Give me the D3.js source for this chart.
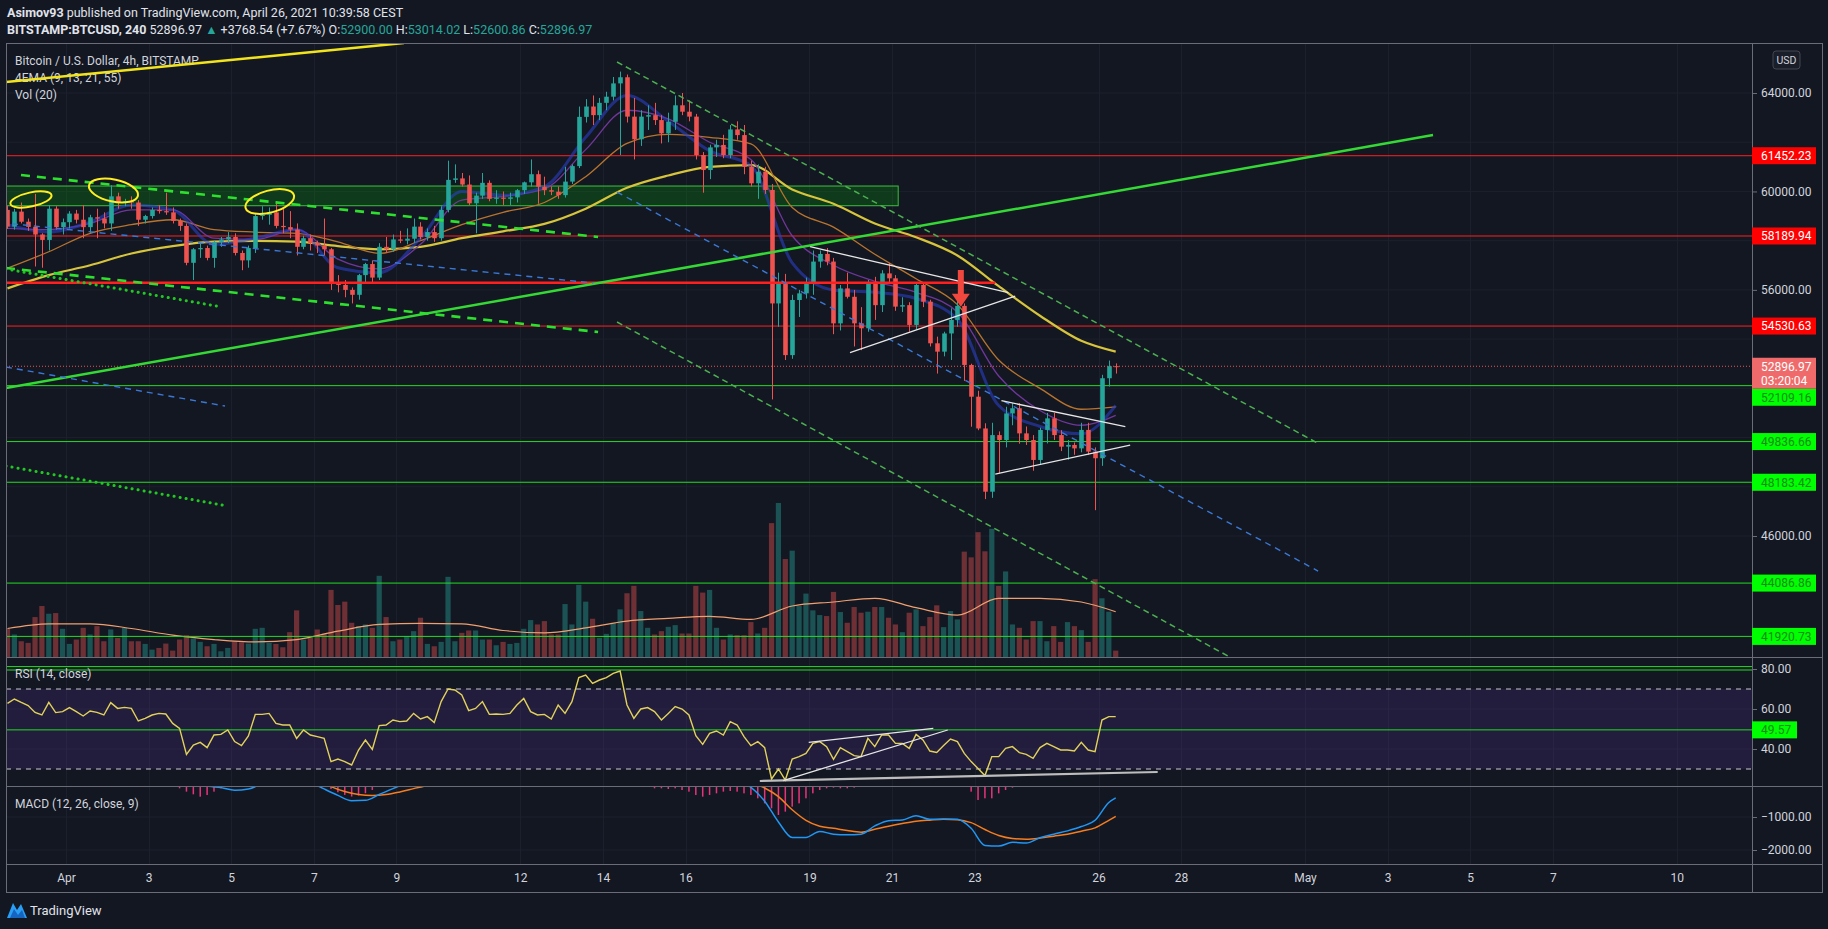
<!DOCTYPE html>
<html>
<head>
<meta charset="utf-8">
<script src="https://d3js.org/d3.v7.min.js"></script>
<style>
  html, body { margin: 0; background: #131722; overflow: hidden; }
  svg { display: block; font-family: Roboto, "Liberation Sans", sans-serif; }
</style>
</head>
<body>
<div id="chart"></div>
<script>
////////////////////////////////////////////////////////////////////
////////////////////////////  Data  ////////////////////////////////
// 4h candles, first one Mar 30 14:00 (chart time), last one Apr 26 10:00
const firstCandle = Date.UTC(2021, 2, 30, 14);
const candleMs = 4 * 3600 * 1000;

const open = [
  59250,58570,59180,58770,58560,58250,58030,59300,58550,58750,
  59100,58850,58550,58950,58900,58700,59800,59550,59600,59550,
  58850,59000,59250,59200,59150,58800,58600,57100,57650,57700,
  57300,57950,58050,58150,57500,57200,57700,59000,59050,59150,
  58600,58550,58450,57750,58100,57900,57800,57650,56300,56200,
  56000,55800,56600,57050,56500,57750,57650,58050,58000,58080,
  58570,58150,58350,58100,59250,60470,60530,60280,59520,59830,
  60350,59700,59750,59700,59760,60050,60370,60700,60190,60050,
  59990,59850,60400,61030,63030,63450,63100,63600,63850,64390,
  64640,63040,62120,63040,63100,62900,62360,62830,63500,63240,
  63040,61480,60870,61790,61890,61480,62520,62290,61000,60330,
  60800,60060,55450,56270,53350,55590,55860,56270,57150,57460,
  57150,54640,56060,55720,54640,54440,56266,55380,56670,56470,
  55320,55380,54575,56200,55520,53830,53490,54230,54780,55350,
  52950,51660,50370,47800,50100,49900,50980,51190,50170,49900,
  49090,50310,50780,50100,49630,49700,49560,50310,49430,49160,
  52410,52900
];
const high = [
  59420,59300,59550,58900,59900,58300,59450,59400,58900,59200,
  59250,59450,59050,59300,59150,60250,59950,59700,59800,59650,
  59050,59350,59450,59950,59350,58900,58700,57700,57900,57800,
  58000,58150,58350,58300,57600,57800,59100,59400,59350,59600,
  59300,59200,58700,58200,58250,58000,58900,57700,56600,56400,
  56100,56650,57100,57200,57900,58150,58250,58400,58500,58900,
  58750,58500,58600,59400,61250,61100,60750,60650,59950,60750,
  60450,60050,60000,59950,60100,60400,61300,60850,60600,60200,
  60200,61000,61100,63450,63750,63900,63800,64050,64650,64870,
  64750,63800,63300,63500,63600,63100,63200,63900,64000,63700,
  63150,61600,61900,62100,62300,62700,62850,62700,61250,61100,
  61000,60300,56700,56650,55800,56000,56500,57600,57600,57700,
  57300,56200,56700,56000,55300,56400,56530,56800,57100,56600,
  55700,55500,56300,56300,55600,54100,54300,55250,55550,55450,
  53000,51900,50580,50600,50250,51250,51400,51400,50450,50100,
  50400,51000,51000,50300,49900,49800,50600,50600,49600,52550,
  53130,53014
];
const low = [
  58480,58450,58700,58400,56950,56900,57600,58450,58250,58500,
  58700,58100,58300,58100,58500,58400,59300,59400,59300,58600,
  58700,58900,59100,59050,58700,58400,57000,56400,57300,57200,
  56900,57750,57900,57400,56800,56900,57500,58850,58650,58500,
  58300,58100,57400,57650,57600,57500,57400,56000,55900,55700,
  55450,55600,56300,56300,56400,57500,57550,57900,57850,57900,
  58050,58000,57950,58000,59150,60350,60200,59450,58300,59700,
  59600,59500,59450,59450,59550,59900,60200,59500,59850,59850,
  59700,59750,60300,60950,62800,62700,62900,63300,63700,61480,
  62800,61300,61850,62500,62700,61950,62000,62500,63100,62850,
  61300,59950,60500,61400,61350,61350,62100,60700,60200,59700,
  59900,51550,54500,53150,53200,54900,55650,55800,56900,57000,
  54200,54350,55650,53700,53550,54300,54780,55100,56300,55150,
  55100,54300,54400,55300,53700,52600,53300,53150,54500,52300,
  50440,50300,47500,47550,48550,49600,50500,49750,49700,48650,
  48900,49760,49900,49450,49100,49300,49400,49300,47050,48850,
  52070,52600
];
const close = [
  58570,59180,58770,58560,58250,58030,59300,58550,58750,59100,
  58850,58550,58950,58900,58700,59800,59550,59600,59550,58850,
  59000,59250,59200,59150,58800,58600,57100,57650,57700,57300,
  57950,58050,58150,57500,57200,57700,59000,59050,59150,58600,
  58550,58450,57750,58100,57900,57800,57650,56300,56200,56000,
  55800,56600,57050,56500,57750,57650,58050,58000,58080,58570,
  58150,58350,58100,59250,60470,60530,60280,59520,59830,60350,
  59700,59750,59700,59760,60050,60370,60700,60190,60050,59990,
  59850,60400,61030,63030,63450,63100,63600,63850,64390,64640,
  63040,62120,63040,63100,62900,62360,62830,63500,63240,63040,
  61480,60870,61790,61890,61480,62520,62290,61000,60330,60800,
  60060,55450,56270,53350,55590,55860,56270,57150,57460,57150,
  54640,56060,55720,54640,54440,56266,55380,56670,56470,55320,
  55380,54575,56200,55520,53830,53490,54230,54780,55350,52950,
  51660,50370,47800,50100,49900,50980,51190,50170,49900,49090,
  50310,50780,50100,49630,49700,49560,50310,49430,49160,52410,
  52900,52897
];
const volume = [
  1400,1117,783,700,1983,2533,2150,2183,1400,650,
  867,1450,1117,1533,783,1367,950,1450,783,783,
  650,367,450,667,317,867,1083,917,750,533,
  650,283,450,783,733,667,1400,1450,700,650,
  483,1233,2317,867,950,1367,1167,3333,2583,2750,
  1700,1533,1617,1450,4033,1983,783,867,1033,1283,
  1950,650,533,750,3983,783,1200,1317,1317,867,
  867,583,750,650,700,1400,1833,1617,1783,1117,
  1117,2630,1617,3583,2750,1900,950,1150,1700,2367,
  3167,3533,2283,1450,1117,1283,1500,1583,1167,1167,
  3533,3200,3333,1450,867,1117,1083,1083,1733,1167,
  1450,6650,7650,4867,5283,2533,3150,2317,2083,2033,
  3233,2233,1700,2483,2200,2250,2483,2483,1950,1617,
  1233,2200,2367,1533,1983,2567,1483,2283,1867,5233,
  4950,6200,5250,6367,3533,4250,1617,1450,867,1783,
  1783,783,1533,750,1733,1533,1333,750,3867,2917,
  2250,317
];

// indicator lines every 6 candles (+ last candle)
const sampleK = [0,6,12,18,24,30,36,42,48,54,60,66,72,78,84,90,96,102,108,114,120,126,132,138,144,150,156,161];
const ema9 =  [58650,58350,58750,59450,59250,57850,58100,58450,56900,56700,58100,60000,59850,60200,62200,63900,62850,61650,61050,57100,56000,55900,55650,54800,51300,50450,50150,51300];
const ema13 = [58500,58450,58700,59250,59250,58100,58050,58450,57250,56850,57850,59650,59800,60100,61700,63300,62950,62000,61300,58200,57000,56350,55900,55100,52500,51100,50500,50900];
const ema21 = [56880,57550,58300,58650,58850,58450,58350,58300,57950,57480,58000,58650,59150,59550,60600,61950,62320,62200,61930,59350,58550,57450,56450,55400,53150,52000,51150,51250];
const ema55 = [56063,56600,57000,57480,57780,57960,57990,57960,57780,57650,57750,58100,58380,58680,59300,60150,60650,61000,61070,60080,59500,58700,58140,57400,56150,54950,53930,53490];
const volMa = [1417,1650,1650,1417,1083,867,750,867,1283,1617,1667,1650,1317,1200,1450,1783,1917,2017,1867,2533,2733,2917,2450,2083,2917,2917,2733,2250];

const rsi = [
  62.8,65,63.3,61.7,58.3,57,63.3,58.2,58.7,60.7,58.7,56.5,59,58.3,57,63.2,60.3,60.8,60.3,54,
  55.3,57,57.8,57.5,52.8,50.3,37.3,42,43.3,40.7,47,47.3,49.5,43.7,41.7,46.5,57.3,57.3,57.8,52.8,
  52,52,45.3,49.5,47,46.2,45.3,33.7,35,33.7,32,39.5,44.5,39.8,51.7,52,54.5,53.7,54,57.8,
  55,56.2,53.2,63.7,70,69.5,67,59.2,60.3,63.7,57.3,57.5,57.3,57.8,62,65.3,58.7,57,57.3,55,
  62,
  57.8,63.7,75.7,77,72.8,74.5,75.7,77.8,79,62,55.3,60,60.7,58.7,54.5,57.8,61.2,60,57,46.7,
  42.3,47.8,49,47,53.7,52,46.2,41.7,43.7,40.7,25,30,24.5,35,36.2,37.8,42.8,43.7,41.2,34.8,
  40.7,38.7,36.7,36.2,45.3,41.2,47,47,42.8,42.8,40.3,47.3,44.5,39,38.3,41.7,45,43.7,37.8,33.7,
  30.3,26.7,36.2,36.2,40.3,41.2,38.2,37.3,35.3,40.7,42.8,41.2,39.5,39.5,39,43.3,39.5,38.7,54.5,56.2,
  56.2
];

// MACD: only the parts below zero are visible in the pane
const macdK = [27,29,31,33,35,37, 44,46,48,50,52,54,56,58,
  106,108,110,112,114,116,118,120,122,124,126,128,130,132,134,136,138,140,142,144,146,148,150,152,154,156,158,160,161];
const macdV = [40,-61,-110,-190,-150,20, 60,-150,-345,-505,-495,-320,-140,30,
  100,-100,-520,-1150,-1620,-1620,-1440,-1520,-1540,-1520,-1270,-1110,-1090,-960,-1070,-1060,-1070,-1343,-1860,-1880,-1768,-1790,-1630,-1520,-1420,-1290,-1100,-560,-420];
const signalK = [46,47,49,51,53,55,57,59,61,62,
  108,110,112,114,116,118,120,122,124,126,128,130,132,134,136,138,140,142,144,146,148,150,152,154,156,158,160,161];
const signalV = [20,-81,-230,-320,-350,-320,-240,-140,-40,30,
  50,-120,-380,-780,-1100,-1280,-1343,-1410,-1460,-1370,-1280,-1200,-1130,-1095,-1070,-1080,-1170,-1380,-1560,-1650,-1672,-1640,-1580,-1520,-1430,-1330,-1100,-980];
const histK = [24,25,26,27,28,29,30,31,32, 46,47,48,49,50,51,52,53,54,
  94,95,96,97,98,99,100,101,102,103,104,105,106,107,108,109,110,111,112,113,114,115,116,117,118,119,120,121,122,123,
  140,141,142,143,144,145,146];
const histV = [-60,-131,-232,-313,-384,-333,-232,-131,-60, -60,-150,-250,-330,-380,-350,-280,-180,-80,
  -131,-131,-152,-131,-182,-232,-333,-384,-333,-283,-232,-212,-232,-283,-333,-434,-586,-737,-939,-838,-687,-586,-434,-283,-182,-131,-111,-131,-131,-111,
  -232,-485,-434,-434,-283,-182,-111];

// price levels with axis labels
const redLevels = [61452.23, 58189.94, 54530.63];
const greenLevels = [52109.16, 49836.66, 48183.42, 44086.86, 41920.73];
const lastPrice = 52896.97;
const countdown = "03:20:04";
const rsiLevels = [81.2, 79.5];
const rsiMark = 49.57;

// drawings: [candle index, price]
const yellowLine = [[-0.22, 64447], [57.6, 66032]];
const greenTrend = [[-0.22, 52013], [207.1, 62293]];
const greenDashed = [[[1.96, 60668], [85.8, 58149]], [[-0.22, 56889], [85.8, 54289]]];
const greenDotted = [[[-0.22, 56848], [31.2, 55304]], [[-0.22, 48844], [31.2, 47259]]];
const blueDashed = [[[-0.22, 52866], [31.6, 51281]], [[0.65, 58685], [85.1, 56280]], [[88.55, 59977], [190.4, 44577]]];
const channelDashed = [[[88.55, 65260], [190.3, 49778]], [[88.55, 54695], [177.3, 41123]]];
const wedgeLines = [[[116.6, 57755], [145.4, 55886]], [[122.4, 53447], [146.4, 55751]],
  [[144.4, 51497], [162.4, 50441]], [[143.5, 48518], [163.1, 49696]]];
const redSupport = [[-0.22, 56292], [143.5, 56292]];
const zoneK = [-0.22, 129.4];
const zoneP = [60220, 59420];
const circled = [[3.41, 59673], [15.4, 60038], [38.1, 59591]];
const arrowK = 138.5;
const arrowP = [56808, 55316];
const rsiDrawings = [[[109.3, 24], [167.1, 28.5]], [[112.7, 24.2], [136.6, 49.5]], [[116.4, 43.3], [134.5, 50.3]]];

// time axis
const tickDates = ["2021-04-01","2021-04-03","2021-04-05","2021-04-07","2021-04-09","2021-04-12",
  "2021-04-14","2021-04-16","2021-04-19","2021-04-21","2021-04-23","2021-04-26","2021-04-28",
  "2021-05-01","2021-05-03","2021-05-05","2021-05-07","2021-05-10"];
const tickLabels = ["Apr","3","5","7","9","12","14","16","19","21","23","26","28","May","3","5","7","10"];
const priceTicks = [46000,48000,50000,52000,54000,56000,58000,60000,62000,64000];
const rsiTicks = [40, 60, 80];
const macdTicks = [-1000, -2000];

////////////////////////////////////////////////////////////////////
////////////////////////////  Layout  //////////////////////////////
const W = 1828, H = 929;
const left = 6, axisX = 1752, right = 1822;
const priceTop = 43, priceBot = 657, rsiBot = 786, macdBot = 864, timeBot = 892;

const up = "#26a69a", down = "#ef5350";
const txt = "#d1d4dc";
const fmt = d3.format(".2f");

const svg = d3.select("#chart").append("svg").attr("width", W).attr("height", H);

const x = d3.scaleUtc()
  .domain([new Date("2021-04-01T00:00:00Z"), new Date("2021-04-26T00:00:00Z")])
  .range([66, 1098.5]);
const xk = (k) => x(new Date(firstCandle + k * candleMs));

const y = d3.scaleLinear().domain([64000, 46000]).range([93, 536]);
const yVol = d3.scaleLinear().domain([0, d3.max(volume)]).range([priceBot, 503]);
const yRsi = d3.scaleLinear().domain([80, 40]).range([669, 749]);
const yMacd = d3.scaleLinear().domain([-1000, -2000]).range([817, 850]);

const defs = svg.append("defs");
function clip(id, y0, y1) {
  defs.append("clipPath").attr("id", id).append("rect")
    .attr("x", left).attr("y", y0).attr("width", axisX - left).attr("height", y1 - y0);
}
clip("c-price", priceTop, priceBot);
clip("c-rsi", priceBot, rsiBot);
clip("c-macd", rsiBot + 1, macdBot);

const idx = d3.range(open.length);

////////////////////////////////////////////////////////////////////
////////////////////////////  Grid  ////////////////////////////////
const grid = svg.append("g").attr("stroke", "#1c202c").attr("stroke-width", 1);
tickDates.forEach((d) => {
  const gx = Math.round(x(new Date(d + "T00:00:00Z"))) + 0.5;
  grid.append("line").attr("x1", gx).attr("x2", gx).attr("y1", priceTop).attr("y2", macdBot);
});
priceTicks.forEach((p) => {
  grid.append("line").attr("x1", left).attr("x2", axisX).attr("y1", y(p)).attr("y2", y(p));
});
rsiTicks.forEach((r) => grid.append("line").attr("x1", left).attr("x2", axisX).attr("y1", yRsi(r)).attr("y2", yRsi(r)));
macdTicks.forEach((m) => grid.append("line").attr("x1", left).attr("x2", axisX).attr("y1", yMacd(m)).attr("y2", yMacd(m)));

////////////////////////////////////////////////////////////////////
////////////////////////////  Price pane  //////////////////////////
const pane = svg.append("g").attr("clip-path", "url(#c-price)");

// green supply zone
pane.append("rect")
  .attr("x", xk(zoneK[0])).attr("width", xk(zoneK[1]) - xk(zoneK[0]))
  .attr("y", y(zoneP[0])).attr("height", y(zoneP[1]) - y(zoneP[0]))
  .attr("fill", "rgba(0,200,0,0.2)").attr("stroke", "#3fbf3f").attr("stroke-width", 1);

// volume
pane.selectAll(".vol").data(idx).enter().append("rect")
  .attr("x", (k) => xk(k) - 2.6).attr("width", 5.2)
  .attr("y", (k) => yVol(volume[k])).attr("height", (k) => priceBot - yVol(volume[k]))
  .attr("fill", (k) => close[k] >= open[k] ? "rgba(38,166,154,0.42)" : "rgba(239,83,80,0.42)");

const smooth = (yy) => d3.line().x((d, i) => xk(sampleK[i])).y((d) => yy(d)).curve(d3.curveMonotoneX);
pane.append("path").datum(volMa).attr("d", smooth(yVol))
  .attr("fill", "none").attr("stroke", "#f0a070").attr("stroke-width", 1.2);

// horizontal levels
redLevels.forEach((p) => pane.append("line").attr("x1", left).attr("x2", axisX)
  .attr("y1", y(p)).attr("y2", y(p)).attr("stroke", "#ff2020").attr("stroke-width", 1));
greenLevels.forEach((p) => pane.append("line").attr("x1", left).attr("x2", axisX)
  .attr("y1", y(p)).attr("y2", y(p)).attr("stroke", "#22dd22").attr("stroke-width", 1));

// EMAs
[[ema55, "#d6c43c", 2.2, 1], [ema21, "#b8742e", 1.3, 1], [ema13, "#7a3aa8", 1.3, 0.9], [ema9, "#2b3fc4", 3, 0.6]]
  .forEach(([s, c, w, o]) => pane.append("path").datum(s).attr("d", smooth(y))
    .attr("fill", "none").attr("stroke", c).attr("stroke-width", w).attr("opacity", o));

// candles
const candles = pane.selectAll(".candle").data(idx).enter().append("g")
  .attr("fill", (k) => close[k] >= open[k] ? up : down)
  .attr("stroke", (k) => close[k] >= open[k] ? up : down);
candles.append("line")
  .attr("x1", (k) => Math.round(xk(k)) + 0.5).attr("x2", (k) => Math.round(xk(k)) + 0.5)
  .attr("y1", (k) => y(high[k])).attr("y2", (k) => y(low[k])).attr("stroke-width", 1);
candles.append("rect")
  .attr("x", (k) => Math.round(xk(k)) + 0.5 - 2.3).attr("width", 4.6)
  .attr("y", (k) => y(Math.max(open[k], close[k])))
  .attr("height", (k) => Math.max(1, Math.abs(y(open[k]) - y(close[k]))))
  .attr("stroke", "none");

// last price dotted line
pane.append("line").attr("x1", left).attr("x2", axisX).attr("y1", y(lastPrice)).attr("y2", y(lastPrice))
  .attr("stroke", "#ef5350").attr("stroke-width", 1).attr("stroke-dasharray", "1,2");

// legend (drawn under the drawings)
const legend = svg.append("g").attr("font-size", 12).attr("fill", txt);
legend.append("text").attr("x", 15).attr("y", 65).text("Bitcoin / U.S. Dollar, 4h, BITSTAMP");
legend.append("text").attr("x", 15).attr("y", 82).text("4EMA (9, 13, 21, 55)");
legend.append("text").attr("x", 15).attr("y", 99).text("Vol (20)");

// drawings
const draw = svg.append("g").attr("clip-path", "url(#c-price)").attr("fill", "none");
function seg(g, pts, c, w, dash, cap) {
  g.append("line")
    .attr("x1", xk(pts[0][0])).attr("y1", y(pts[0][1]))
    .attr("x2", xk(pts[1][0])).attr("y2", y(pts[1][1]))
    .attr("stroke", c).attr("stroke-width", w)
    .attr("stroke-dasharray", dash).attr("stroke-linecap", cap || "butt");
}
seg(draw, redSupport, "#ff1f1f", 2.5, null);
seg(draw, yellowLine, "#f2e41c", 2.5, null);
seg(draw, greenTrend, "#35d935", 2.5, null);
greenDashed.forEach((s) => seg(draw, s, "#2ee02e", 2.6, "9,7"));
greenDotted.forEach((s) => seg(draw, s, "#22c822", 3, "0.1,6", "round"));
blueDashed.forEach((s) => seg(draw, s, "#3b78d6", 1.4, "6,5"));
channelDashed.forEach((s) => seg(draw, s, "#4caf50", 1.5, "6,4"));
wedgeLines.forEach((s) => seg(draw, s, "#e6e6e6", 1.3, null));

[[21, 7, -12], [25, 11, 12], [25, 11, -15]].forEach(([rx, ry, a], i) => {
  const cx = xk(circled[i][0]), cy = y(circled[i][1]);
  draw.append("ellipse").attr("cx", cx).attr("cy", cy).attr("rx", rx).attr("ry", ry)
    .attr("transform", `rotate(${a},${cx},${cy})`)
    .attr("stroke", "#ffee22").attr("stroke-width", 2);
});

// red arrow
{
  const ax = xk(arrowK), top = y(arrowP[0]), tip = y(arrowP[1]);
  const hs = tip - 13;
  draw.append("path")
    .attr("d", `M${ax - 3},${top} L${ax + 3},${top} L${ax + 3},${hs} L${ax + 9},${hs} L${ax},${tip} L${ax - 9},${hs} L${ax - 3},${hs} Z`)
    .attr("fill", "#f0483e");
}

////////////////////////////////////////////////////////////////////
////////////////////////////  RSI pane  ////////////////////////////
const rsiG = svg.append("g").attr("clip-path", "url(#c-rsi)");
rsiG.append("rect").attr("x", left).attr("width", axisX - left)
  .attr("y", yRsi(70)).attr("height", yRsi(30) - yRsi(70)).attr("fill", "rgba(120,60,200,0.16)");
[70, 30].forEach((r) => rsiG.append("line").attr("x1", left).attr("x2", axisX)
  .attr("y1", yRsi(r)).attr("y2", yRsi(r)).attr("stroke", "#c8c8d0").attr("stroke-dasharray", "5,5"));
rsiLevels.concat([rsiMark]).forEach((r) => rsiG.append("line").attr("x1", left).attr("x2", axisX)
  .attr("y1", yRsi(r)).attr("y2", yRsi(r)).attr("stroke", "#22dd22").attr("stroke-width", 1));
rsiG.append("path").datum(rsi)
  .attr("d", d3.line().x((d, i) => xk(i)).y((d) => yRsi(d)))
  .attr("fill", "none").attr("stroke", "#e2d25c").attr("stroke-width", 1.4);
rsiDrawings.forEach((s, i) => rsiG.append("line")
  .attr("x1", xk(s[0][0])).attr("y1", yRsi(s[0][1])).attr("x2", xk(s[1][0])).attr("y2", yRsi(s[1][1]))
  .attr("stroke", i === 0 ? "#bdbdbd" : "#e6e6e6").attr("stroke-width", i === 0 ? 2.2 : 1.3));
svg.append("text").attr("x", 15).attr("y", 678).attr("font-size", 12).attr("fill", txt).text("RSI (14, close)");

////////////////////////////////////////////////////////////////////
////////////////////////////  MACD pane  ///////////////////////////
const macdG = svg.append("g").attr("clip-path", "url(#c-macd)");
macdG.selectAll(".hist").data(histK).enter().append("rect")
  .attr("x", (k) => xk(k) - 0.75).attr("width", 1.5)
  .attr("y", yMacd(0)).attr("height", (k, i) => yMacd(histV[i]) - yMacd(0))
  .attr("fill", "#e8337a");

function pieces(ks, vs) {
  const out = [];
  ks.forEach((k, i) => {
    if (!i || k - ks[i - 1] > 3) out.push([]);
    out[out.length - 1].push([k, vs[i]]);
  });
  return out;
}
const macdLine = d3.line().x((d) => xk(d[0])).y((d) => yMacd(d[1])).curve(d3.curveMonotoneX);
pieces(signalK, signalV).forEach((p) => macdG.append("path").datum(p).attr("d", macdLine)
  .attr("fill", "none").attr("stroke", "#f57c1f").attr("stroke-width", 1.5));
pieces(macdK, macdV).forEach((p) => macdG.append("path").datum(p).attr("d", macdLine)
  .attr("fill", "none").attr("stroke", "#2196f3").attr("stroke-width", 1.5));
svg.append("text").attr("x", 15).attr("y", 808).attr("font-size", 12).attr("fill", txt).text("MACD (12, 26, close, 9)");

////////////////////////////////////////////////////////////////////
////////////////////////////  Frame & axes  ////////////////////////
const frame = svg.append("g").attr("stroke", "#6a6d78").attr("fill", "none");
frame.append("rect").attr("x", left + 0.5).attr("y", priceTop + 0.5)
  .attr("width", right - left).attr("height", timeBot - priceTop);
[priceBot, rsiBot, macdBot].forEach((yy) => frame.append("line")
  .attr("x1", left).attr("x2", right).attr("y1", yy + 0.5).attr("y2", yy + 0.5));
frame.append("line").attr("x1", axisX + 0.5).attr("x2", axisX + 0.5).attr("y1", priceTop).attr("y2", timeBot);

function styleAxis(g) {
  g.select(".domain").remove();
  g.selectAll(".tick line").attr("stroke", "#6a6d78");
  g.selectAll(".tick text").attr("fill", txt).attr("font-size", 12).attr("font-family", "Roboto, sans-serif");
}

// where the level tags sit on the price scale
const lastY = y(lastPrice);
const tagY = (p) => {
  const yy = y(p);
  // a tag that would sit under the last-price box is pushed below it
  return (yy > lastY - 8.5 && yy < lastY + 31) ? lastY + 22.5 + 8.5 : yy;
};
const tagYs = redLevels.concat(greenLevels).map(tagY).concat([lastY + 7]);
// tick labels that sit under a tag are hidden, as on the original scale
const freeTicks = priceTicks.filter((p) => tagYs.every((t) => Math.abs(y(p) - t) > 14));

svg.append("g").attr("transform", `translate(${axisX},0)`)
  .call(d3.axisRight(y).tickValues(freeTicks).tickFormat(fmt).tickSize(5).tickPadding(4))
  .call(styleAxis);
svg.append("g").attr("transform", `translate(${axisX},0)`)
  .call(d3.axisRight(yRsi).tickValues(rsiTicks).tickFormat(fmt).tickSize(5).tickPadding(4))
  .call(styleAxis);
svg.append("g").attr("transform", `translate(${axisX},0)`)
  .call(d3.axisRight(yMacd).tickValues(macdTicks).tickFormat(fmt).tickSize(5).tickPadding(4))
  .call(styleAxis);
svg.append("g").attr("transform", `translate(0,${macdBot})`)
  .call(d3.axisBottom(x).tickValues(tickDates.map((d) => new Date(d + "T00:00:00Z")))
    .tickFormat((d, i) => tickLabels[i]).tickSize(0).tickPadding(9))
  .call(styleAxis);

// axis tags for levels
function axisTag(label, yy, fill, color, w) {
  const g = svg.append("g");
  g.append("rect").attr("x", axisX).attr("y", yy - 8.5).attr("width", w || 64).attr("height", 17).attr("fill", fill);
  g.append("text").attr("x", axisX + 9).attr("y", yy + 4.3).attr("font-size", 12).attr("fill", color).text(label);
}
redLevels.forEach((p) => axisTag(fmt(p), tagY(p), "#ff0000", "#ffffff"));
greenLevels.forEach((p) => axisTag(fmt(p), tagY(p), "#00ff00", "#178a17"));
axisTag(fmt(rsiMark), yRsi(rsiMark), "#00ff00", "#178a17", 45);

svg.append("rect").attr("x", axisX).attr("y", lastY - 8.5).attr("width", 64).attr("height", 31).attr("fill", "#ef6b6b");
svg.append("text").attr("x", axisX + 9).attr("y", lastY + 4.3).attr("font-size", 12).attr("fill", "#fff").text(fmt(lastPrice));
svg.append("text").attr("x", axisX + 9).attr("y", lastY + 18.5).attr("font-size", 12).attr("fill", "#fff").text(countdown);

// USD badge
svg.append("rect").attr("x", 1773).attr("y", 51).attr("width", 27).attr("height", 18).attr("rx", 3)
  .attr("fill", "#1a1e29").attr("stroke", "#434651");
svg.append("text").attr("x", 1786.5).attr("y", 64).attr("text-anchor", "middle")
  .attr("font-size", 10.5).attr("fill", txt).text("USD");

////////////////////////////////////////////////////////////////////
////////////////////////////  Header & footer  /////////////////////
const h1 = svg.append("text").attr("x", 7).attr("y", 17).attr("font-size", 12.5).attr("fill", "#e0e3eb");
h1.append("tspan").attr("font-weight", "bold").text("Asimov93");
h1.append("tspan").text(" published on TradingView.com, April 26, 2021 10:39:58 CEST");

const h2 = svg.append("text").attr("x", 7).attr("y", 34).attr("font-size", 12.5).attr("fill", "#e0e3eb");
h2.append("tspan").attr("font-weight", "bold").text("BITSTAMP:BTCUSD, 240");
h2.append("tspan").text(" 52896.97 ");
h2.append("tspan").attr("fill", up).text("▲");
h2.append("tspan").text(" +3768.54 (+7.67%) O:");
h2.append("tspan").attr("fill", up).text("52900.00");
h2.append("tspan").text(" H:");
h2.append("tspan").attr("fill", up).text("53014.02");
h2.append("tspan").text(" L:");
h2.append("tspan").attr("fill", up).text("52600.86");
h2.append("tspan").text(" C:");
h2.append("tspan").attr("fill", up).text("52896.97");

svg.append("path").attr("d", "M7,918 L13,903 L17,910 L21,904 L27,918 Z").attr("fill", "#2a9df4");
svg.append("path").attr("d", "M10,918 L14,909 L18,915 L22,910 L25,918 Z").attr("fill", "#1565c0");
svg.append("text").attr("x", 30).attr("y", 915).attr("font-size", 13).attr("fill", "#e0e3eb").text("TradingView");
</script>
</body>
</html>
